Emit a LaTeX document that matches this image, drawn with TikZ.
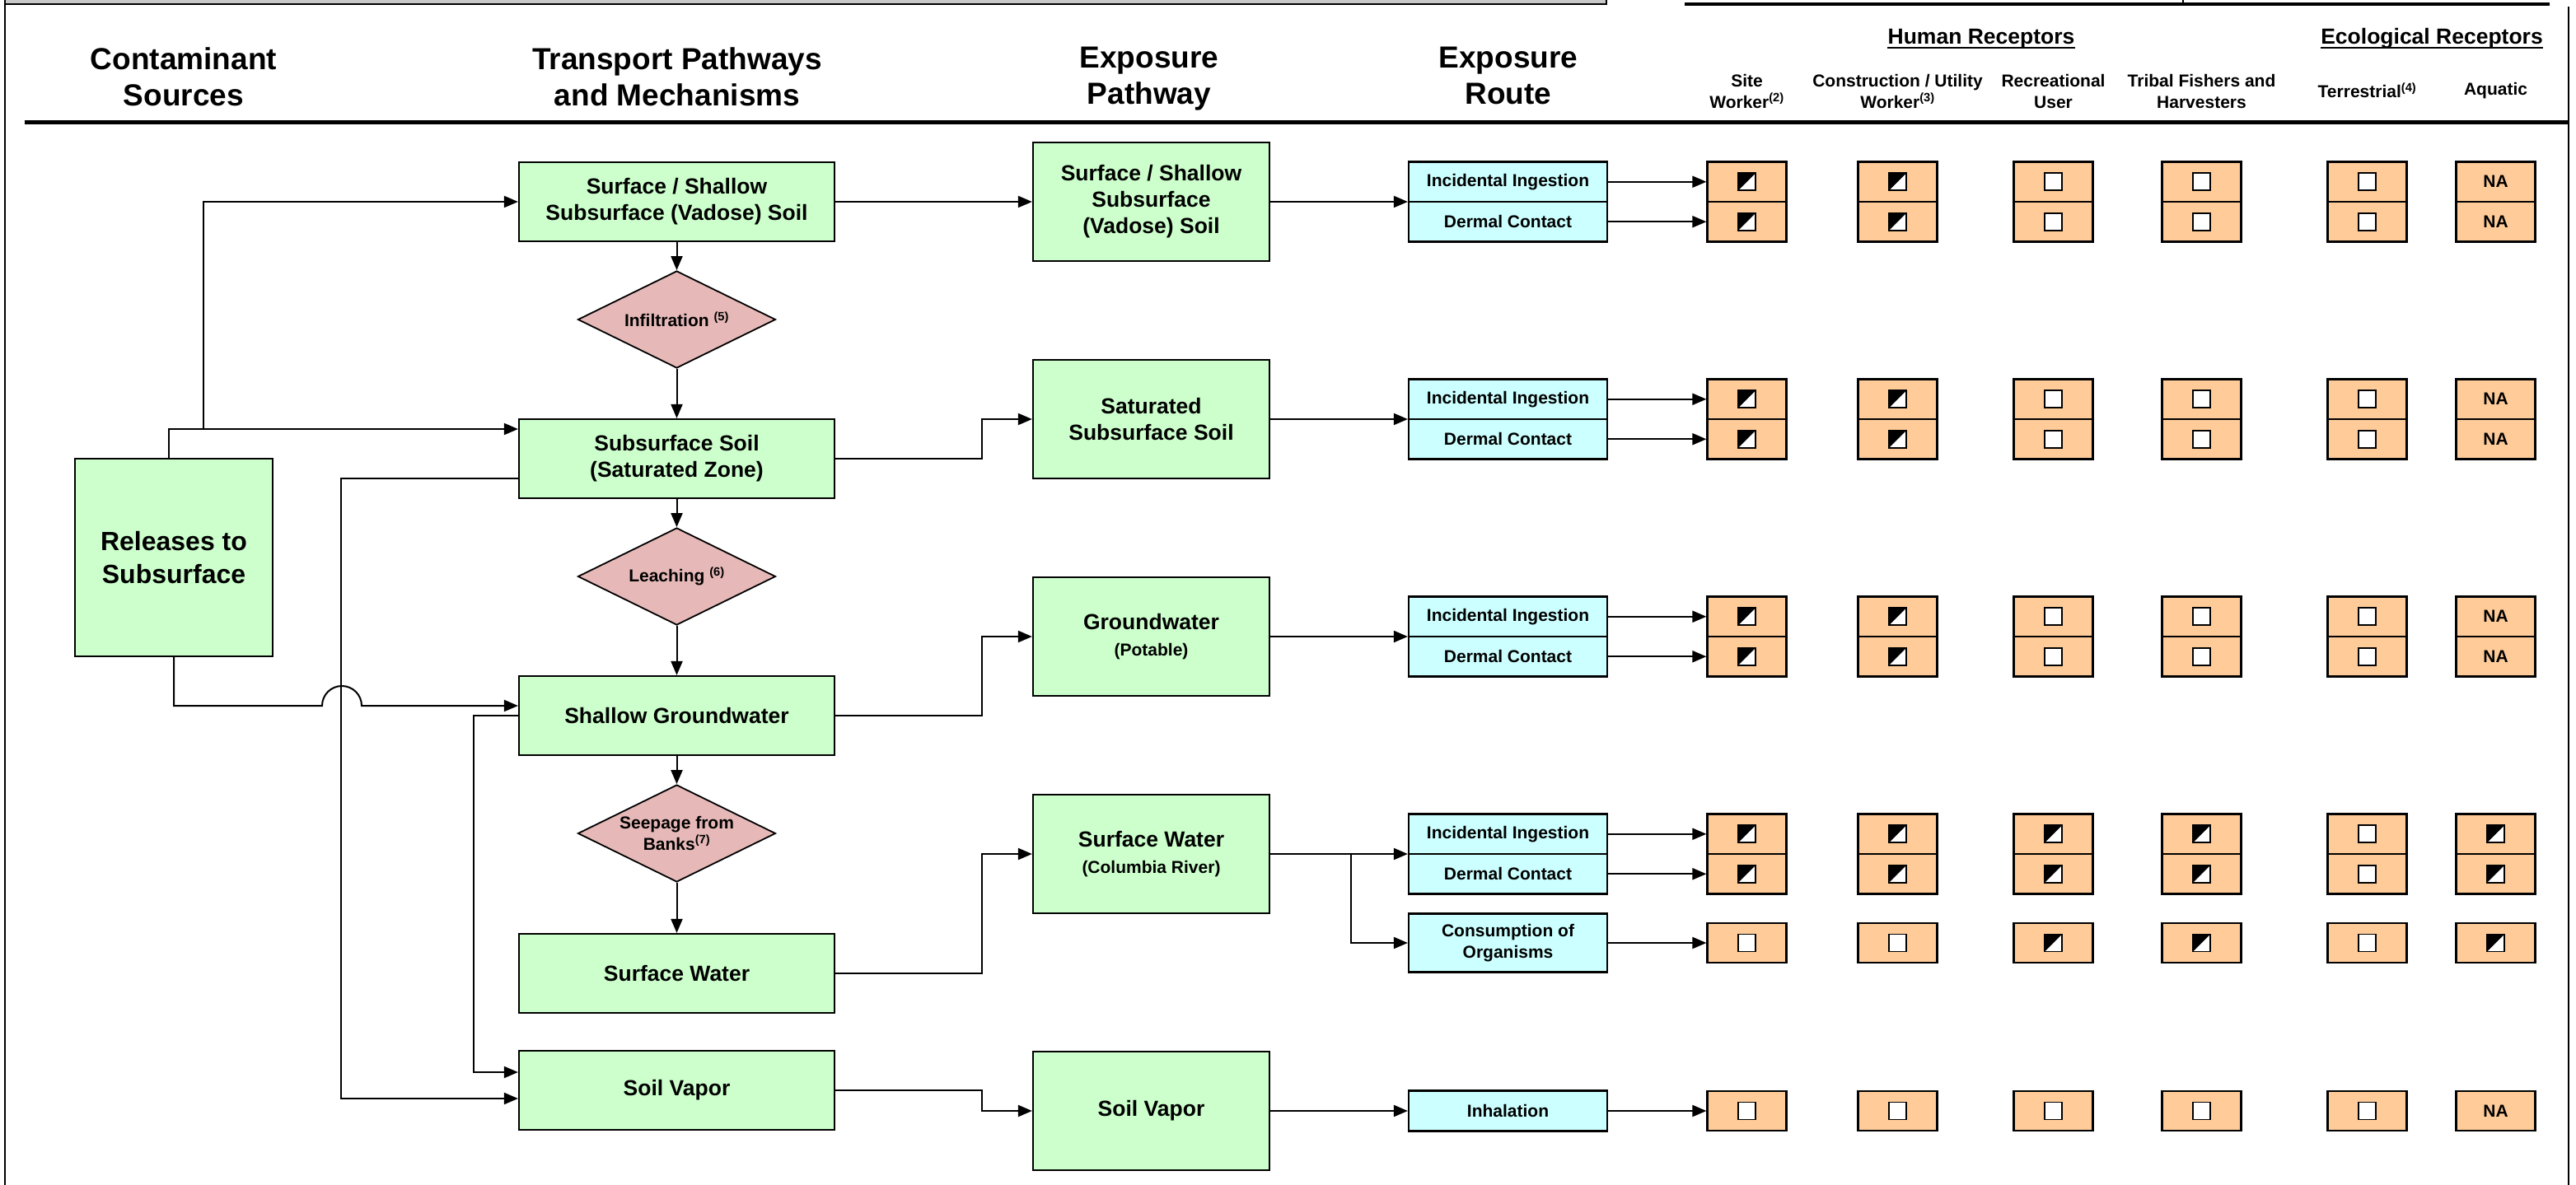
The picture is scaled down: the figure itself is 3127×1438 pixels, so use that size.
\documentclass[tikz,border=0pt]{standalone}
\usepackage{fontspec}
\setmainfont{Liberation Sans}
\usetikzlibrary{arrows.meta,shapes.geometric,calc}
\definecolor{gfill}{HTML}{CCFFCC}
\definecolor{cfill}{HTML}{CCFFFF}
\definecolor{ofill}{HTML}{FFCC99}
\definecolor{pfill}{HTML}{E6B9B8}
\definecolor{topgrey}{HTML}{C8C8C8}
\newcommand\fzhead{\fontsize{37}{44}\selectfont\bfseries}
\newcommand\fzbig{\fontsize{32}{40}\selectfont\bfseries}
\newcommand\fzmid{\fontsize{26.5}{32}\selectfont\bfseries}
\newcommand\fzsmall{\fontsize{21}{26}\selectfont\bfseries}
\newcommand\mycell[4]{\node[obox] (#1) at (#2,#3) {\ifx N#4NA\fi};
  \ifx H#4\pic at (#1) {iconhalf};\fi
  \ifx E#4\pic at (#1) {iconempty};\fi}
\newcommand\recrow[8]{\mycell{#1-1}{2120.5}{#2}{#3}\mycell{#1-2}{2303.5}{#2}{#4}\mycell{#1-3}{2492.5}{#2}{#5}\mycell{#1-4}{2672.5}{#2}{#6}\mycell{#1-5}{2873.5}{#2}{#7}\mycell{#1-6}{3029.5}{#2}{#8}}
\tikzset{
 iconhalf/.pic={\fill[white] (-10.5,-10.5) rectangle (10.5,10.5);
   \fill[black] (-10.5,-10.5) -- (10.5,-10.5) -- (-10.5,10.5) -- cycle;
   \draw[line width=1.8pt] (-10.5,-10.5) rectangle (10.5,10.5);},
 iconempty/.pic={\draw[fill=white,line width=1.8pt] (-10.5,-10.5) rectangle (10.5,10.5);}
}
\begin{document}
\begin{tikzpicture}[x=1pt,y=-1pt,
  gbox/.style={draw, fill=gfill, line width=2.2pt, inner sep=0pt, align=center, font=\fzmid},
  rbox/.style={draw, fill=cfill, line width=2.2pt, inner sep=0pt, align=center, font=\fzsmall, minimum width=241pt},
  obox/.style={draw, fill=ofill, line width=2.2pt, inner sep=0pt, align=center, font=\fzsmall, minimum width=96pt, minimum height=48.5pt},
  dia/.style={diamond, draw, fill=pfill, line width=1.8pt, inner sep=0pt, aspect=2, minimum width=240pt, minimum height=118pt, align=center, font=\fzsmall},
  hdr/.style={font=\fzhead, align=center, anchor=north, inner sep=0pt},
  grp/.style={font=\fzmid, anchor=base, inner sep=0pt},
  sub/.style={font=\fzsmall, align=center},
  arr/.style={line width=2pt, -{Triangle[length=17pt,width=14pt]}}]
\useasboundingbox (0,0) rectangle (3127,1438);

% frame fragments
\fill[topgrey] (6,-4) rectangle (1950,5);
\draw[line width=2.5pt] (6,5) -- (1950,5) -- (1950,-4);
\draw[line width=2.5pt] (6,-4) -- (6,1442);
\draw[line width=4pt] (2045,5) -- (3095,5);
\draw[line width=2.5pt] (2650,-4) -- (2650,5);
\draw[line width=2pt] (3118,8) -- (3118,1442);
\draw[line width=5.5pt] (30,148.5) -- (3118,148.5);

% headers
\node[hdr] (h1) at (223,57) {Contaminant\\Sources};
\node[hdr] (h2) at (822,57) {Transport Pathways\\and Mechanisms};
\node[hdr] (h3) at (1395,57) {Exposure\\Pathway};
\node[hdr] (h4) at (1831,57) {Exposure\\Route};
\node[grp] (h5) at (2405,53) {Human Receptors};
\node[grp] (h6) at (2952,53) {Ecological Receptors};
\draw[line width=2.5pt] ([yshift=-5pt]h5.base west) -- ([yshift=-5pt]h5.base east);
\draw[line width=2.5pt] ([yshift=-5pt]h6.base west) -- ([yshift=-5pt]h6.base east);
\node[sub] (s1) at (2120.5,111) {Site\\Worker\textsuperscript{(2)}};
\node[sub] (s2) at (2303.5,111) {Construction / Utility\\Worker\textsuperscript{(3)}};
\node[sub] (s3) at (2492.5,111) {Recreational\\User};
\node[sub] (s4) at (2672.5,111) {Tribal Fishers and\\Harvesters};
\node[sub] (s5) at (2873.5,110) {Terrestrial\textsuperscript{(4)}};
\node[sub] (s6) at (3029.5,110) {Aquatic};

% source
\node[gbox, font=\fzbig, minimum width=240pt, minimum height=240pt] (R) at (211,677) {Releases to\\Subsurface};

% transport column
\node[gbox, minimum width=383pt, minimum height=96pt] (T1) at (821.5,245) {Surface / Shallow\\Subsurface (Vadose) Soil};
\node[dia] (D1) at (821.5,388) {Infiltration \textsuperscript{(5)}};
\node[gbox, minimum width=383pt, minimum height=96pt] (T2) at (821.5,557) {Subsurface Soil\\(Saturated Zone)};
\node[dia] (D2) at (821.5,700) {Leaching \textsuperscript{(6)}};
\node[gbox, minimum width=383pt, minimum height=96pt] (T3) at (821.5,869) {Shallow Groundwater};
\node[dia] (D3) at (821.5,1012) {Seepage from\\Banks\textsuperscript{(7)}};
\node[gbox, minimum width=383pt, minimum height=96pt] (T4) at (821.5,1182) {Surface Water};
\node[gbox, minimum width=383pt, minimum height=96pt] (T5) at (821.5,1324) {Soil Vapor};

% exposure pathway column
\node[gbox, minimum width=287pt, minimum height=144pt] (P1) at (1397.5,245) {Surface / Shallow\\Subsurface\\(Vadose) Soil};
\node[gbox, minimum width=287pt, minimum height=144pt] (P2) at (1397.5,509) {Saturated\\Subsurface Soil};
\node[gbox, minimum width=287pt, minimum height=144pt] (P3) at (1397.5,773) {Groundwater\\{\fzsmall (Potable)}};
\node[gbox, minimum width=287pt, minimum height=144pt] (P4) at (1397.5,1037) {Surface Water\\{\fzsmall (Columbia River)}};
\node[gbox, minimum width=287pt, minimum height=144pt] (P5) at (1397.5,1349) {Soil Vapor};

% exposure routes
\node[rbox, minimum height=48.5pt] (I1) at (1830.5,220.75) {Incidental Ingestion};
\node[rbox, minimum height=48.5pt] (E1) at (1830.5,269.25) {Dermal Contact};
\node[rbox, minimum height=48.5pt] (I2) at (1830.5,484.75) {Incidental Ingestion};
\node[rbox, minimum height=48.5pt] (E2) at (1830.5,533.25) {Dermal Contact};
\node[rbox, minimum height=48.5pt] (I3) at (1830.5,748.75) {Incidental Ingestion};
\node[rbox, minimum height=48.5pt] (E3) at (1830.5,797.25) {Dermal Contact};
\node[rbox, minimum height=48.5pt] (I4) at (1830.5,1012.75) {Incidental Ingestion};
\node[rbox, minimum height=48.5pt] (E4) at (1830.5,1061.25) {Dermal Contact};
\node[rbox, minimum height=71pt] (C) at (1830.5,1145) {Consumption of\\Organisms};
\node[rbox, minimum height=49pt] (INH) at (1830.5,1349) {Inhalation};

% receptor cells
\recrow{r1a}{220.75}{H}{H}{E}{E}{E}{N}
\recrow{r1b}{269.25}{H}{H}{E}{E}{E}{N}
\recrow{r2a}{484.75}{H}{H}{E}{E}{E}{N}
\recrow{r2b}{533.25}{H}{H}{E}{E}{E}{N}
\recrow{r3a}{748.75}{H}{H}{E}{E}{E}{N}
\recrow{r3b}{797.25}{H}{H}{E}{E}{E}{N}
\recrow{r4a}{1012.75}{H}{H}{H}{H}{E}{H}
\recrow{r4b}{1061.25}{H}{H}{H}{H}{E}{H}
\recrow{r4c}{1145}{E}{E}{H}{H}{E}{H}
\recrow{r5}{1349}{E}{E}{E}{E}{E}{N}

% source connectors
\coordinate (j1) at (247,521);
\draw[arr] ([xshift=-6pt]R.north) |- ([yshift=36pt]T2.west);
\draw[arr] (j1) |- (T1.west);
\draw[arr] (R.south) |- (391,857) arc[start angle=180,end angle=0,radius=24pt] -- ([yshift=12pt]T3.west);
\draw[arr] ([yshift=-24pt]T2.west) -| ([xshift=-215pt,yshift=-10pt]T5.west) -- ([yshift=-10pt]T5.west);
\draw[arr] (T3.west) -| ([xshift=-54pt,yshift=22pt]T5.west) -- ([yshift=22pt]T5.west);

% vertical chain
\draw[arr] (T1.south) -- (D1.north);
\draw[arr] (D1.south) -- (T2.north);
\draw[arr] (T2.south) -- (D2.north);
\draw[arr] (D2.south) -- (T3.north);
\draw[arr] (T3.south) -- (D3.north);
\draw[arr] (D3.south) -- (T4.north);

% transport -> pathway
\draw[arr] (T1.east) -- (P1.west);
\draw[arr] (T2.east) -| ([xshift=-61pt]P2.west) -- (P2.west);
\draw[arr] (T3.east) -| ([xshift=-61pt]P3.west) -- (P3.west);
\draw[arr] (T4.east) -| ([xshift=-61pt]P4.west) -- (P4.west);
\draw[arr] (T5.east) -| ([xshift=-61pt]P5.west) -- (P5.west);

% pathway -> route
\draw[arr] (P1.east) -- (P1.east -| I1.west);
\draw[arr] (P2.east) -- (P2.east -| I2.west);
\draw[arr] (P3.east) -- (P3.east -| I3.west);
\draw[arr] (P4.east) -- (P4.east -| I4.west);
\draw[arr] ([xshift=98pt]P4.east) |- (C.west);
\draw[arr] (P5.east) -- (INH.west);

% route -> receptors
\draw[arr] (I1.east) -- (r1a-1.west);
\draw[arr] (E1.east) -- (r1b-1.west);
\draw[arr] (I2.east) -- (r2a-1.west);
\draw[arr] (E2.east) -- (r2b-1.west);
\draw[arr] (I3.east) -- (r3a-1.west);
\draw[arr] (E3.east) -- (r3b-1.west);
\draw[arr] (I4.east) -- (r4a-1.west);
\draw[arr] (E4.east) -- (r4b-1.west);
\draw[arr] (C.east) -- (r4c-1.west);
\draw[arr] (INH.east) -- (r5-1.west);
\end{tikzpicture}
\end{document}
